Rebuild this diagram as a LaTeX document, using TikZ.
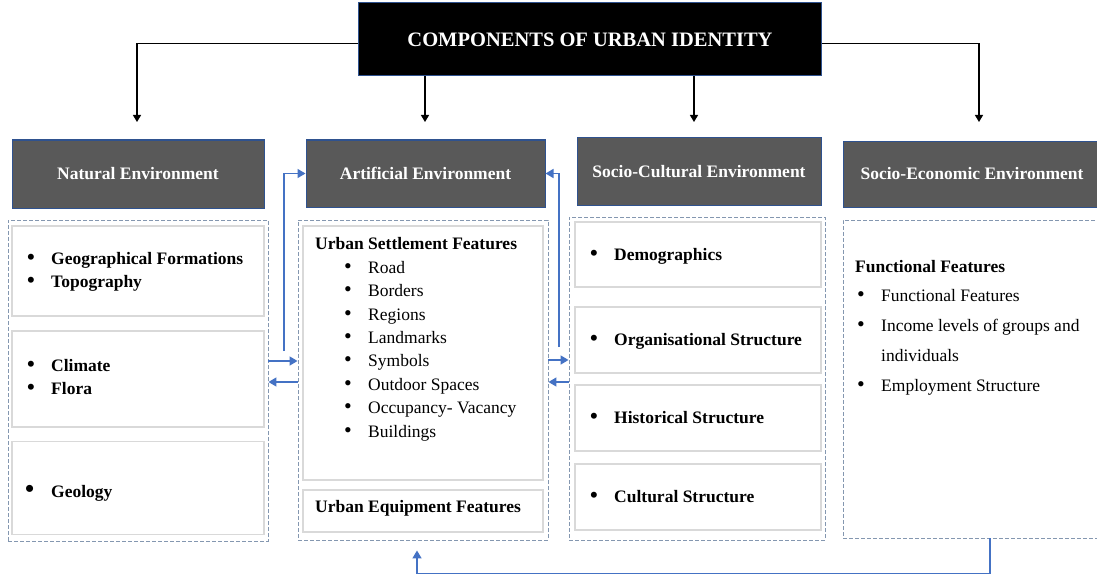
\documentclass[tikz,border=0pt]{standalone}
\usepackage{fontspec}
\setmainfont{Liberation Serif}
\usetikzlibrary{arrows.meta}

\definecolor{hdrgray}{HTML}{595959}
\definecolor{hdrblue}{HTML}{2F528F}
\definecolor{linkblue}{HTML}{4472C4}
\definecolor{dashgray}{HTML}{8497B0}
\definecolor{boxgray}{HTML}{D9D9D9}

% bullet with a fixed indent
\newcommand{\bul}{\makebox[24pt][l]{{\fontsize{22}{22}\selectfont\textbullet}}}
\newcommand{\bulgap}{\makebox[24pt][l]{}}

\begin{document}
\begin{tikzpicture}[x=1pt,y=-1pt,
  title/.style={draw=hdrblue,fill=black,text=white,line width=1pt,inner sep=0pt,
    minimum width=463pt,minimum height=73pt,font=\fontsize{20.5}{24}\selectfont\bfseries},
  header/.style={draw=hdrblue,fill=hdrgray,text=white,line width=1pt,inner sep=0pt,
    font=\fontsize{17.5}{21}\selectfont\bfseries},
  group/.style={draw=dashgray,dash pattern=on 4pt off 2pt,line width=0.9pt,inner sep=0pt},
  cell/.style={draw=boxgray,line width=1.5pt,inner sep=0pt},
  item/.style={anchor=base west,align=left,inner sep=0pt,font=\fontsize{17.5}{23.4}\selectfont},
  blk/.style={-{Triangle[length=7pt,width=8pt]},line width=1.2pt},
  blu/.style={draw=linkblue,-{Triangle[length=8pt,width=9pt]},line width=1.5pt}]

\useasboundingbox (0,0) rectangle (1097,575);
\clip (0,0) rectangle (1097,575);

% top box
\node[title] (comp) at (590,39.5) {COMPONENTS OF URBAN IDENTITY};

% environment headers
\node[header,minimum width=252pt,minimum height=68pt] (natural) at (138,174) {Natural Environment};
\node[header,minimum width=239pt,minimum height=67pt] (artificial) at (425.5,173.5) {Artificial Environment};
\node[header,minimum width=244pt,minimum height=67pt] (cultural) at (699,171.5) {Socio-Cultural Environment};
\node[header,minimum width=258pt,minimum height=66pt] (economic) at (972,174) {Socio-Economic Environment};

% dashed groups
\node[group,minimum width=260pt,minimum height=321pt] (natbox) at (138,380.5) {};
\node[group,minimum width=250pt,minimum height=320pt] (artbox) at (423,380) {};
\node[group,minimum width=256pt,minimum height=323pt] (socbox) at (697,378.5) {};
\node[group,minimum width=258pt,minimum height=318pt] (ecobox) at (972,379) {};

% natural environment (multi-line items sit on their last baseline)
\node[cell,minimum width=252pt,minimum height=90pt] (nat1) at (138,271) {};
\node[cell,minimum width=252pt,minimum height=96pt] (nat2) at (138,379) {};
\node[cell,minimum width=252pt,minimum height=93pt] (nat3) at (138,488) {};
\node[item,font=\fontsize{17.5}{22.5}\selectfont\bfseries] (geo) at (27,287)
  {\bul Geographical Formations\\ \bul Topography};
\node[item,font=\fontsize{17.5}{23}\selectfont\bfseries] (clim) at (27,394)
  {\bul Climate\\ \bul Flora};
\node[item,font=\fontsize{17.5}{23}\selectfont\bfseries] (geol) at (25,497)
  {\makebox[26pt][l]{{\fontsize{26}{26}\selectfont\textbullet}}Geology};

% artificial environment
\node[cell,minimum width=240pt,minimum height=254pt] (art1) at (423,353) {};
\node[cell,minimum width=240pt,minimum height=42pt] (art2) at (423,511) {};
\node[item] (settle) at (315,249) {\textbf{Urban Settlement Features}};
\node[item] (settlelist) at (344,437)
  {\bul Road\\ \bul Borders\\ \bul Regions\\ \bul Landmarks\\ \bul Symbols\\
   \bul Outdoor Spaces\\ \bul Occupancy- Vacancy\\ \bul Buildings};
\node[item] (equip) at (315,512) {\textbf{Urban Equipment Features}};

% socio-cultural environment
\node[cell,minimum width=246pt,minimum height=65pt] (soc1) at (698,254.5) {};
\node[cell,minimum width=246pt,minimum height=66pt] (soc2) at (698,340) {};
\node[cell,minimum width=246pt,minimum height=66pt] (soc3) at (698,418) {};
\node[cell,minimum width=246pt,minimum height=66pt] (soc4) at (698,497) {};
\node[item,font=\fontsize{17.5}{21}\selectfont\bfseries] (demo) at (590,260) {\bul Demographics};
\node[item,font=\fontsize{17.5}{21}\selectfont\bfseries] (organ) at (590,345) {\bul Organisational Structure};
\node[item,font=\fontsize{17.5}{21}\selectfont\bfseries] (hist) at (590,423) {\bul Historical Structure};
\node[item,font=\fontsize{17.5}{21}\selectfont\bfseries] (cult) at (590,502) {\bul Cultural Structure};

% socio-economic environment
\node[item] (func) at (855,272) {\textbf{Functional Features}};
\node[item,font=\fontsize{17.5}{29.7}\selectfont] (funclist) at (857,391)
  {\bul Functional Features\\ \bul Income levels of groups and\\ \bulgap individuals\\
   \bul Employment Structure};

% black arrows from the top box
\coordinate (tipN) at (137,122);
\coordinate (tipA) at (425,122);
\coordinate (tipC) at (694,122);
\coordinate (tipE) at (979,122);
\draw[blk] ([yshift=-4pt]comp.west) -| (tipN);
\draw[blk] (comp.south -| tipA) -- (tipA);
\draw[blk] (comp.south -| tipC) -- (tipC);
\draw[blk] ([yshift=-4pt]comp.east) -| (tipE);

% blue links between the groups
\coordinate (upL) at (284,351);
\coordinate (upR) at (559,347);
\draw[blu] (natbox.east |- 0,361) -- (artbox.west |- 0,361);
\draw[blu] (artbox.west |- 0,382) -- (natbox.east |- 0,382);
\draw[blu] (upL) |- (artificial.west);
\draw[blu] (artbox.east |- 0,360) -- (socbox.west |- 0,360);
\draw[blu] (socbox.west |- 0,382) -- (artbox.east |- 0,382);
\draw[blu] (upR) |- (artificial.east);
\draw[blu,shorten >=10pt] (ecobox.south -| 990,0) -- ++(0,35) -| (artbox.south -| 417,0);
\end{tikzpicture}
\end{document}
